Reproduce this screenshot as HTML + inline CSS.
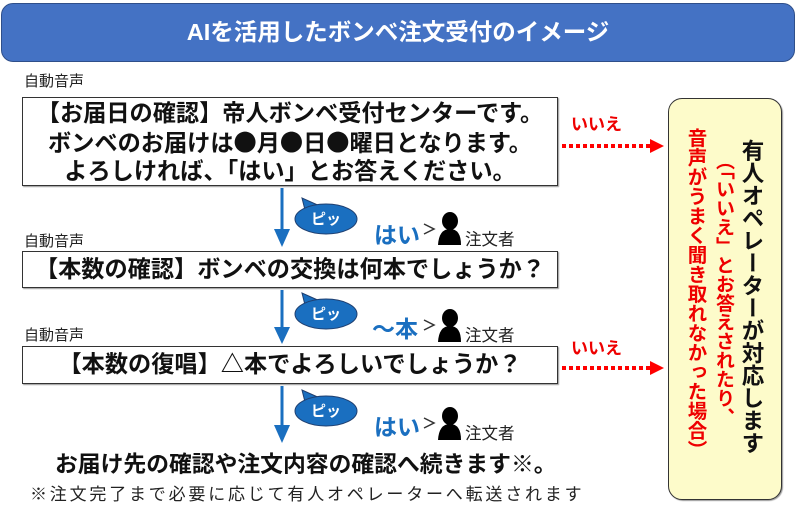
<!DOCTYPE html>
<html><head><meta charset="utf-8"><style>
body{margin:0;width:800px;height:515px;background:#fff;position:relative;overflow:hidden;font-family:"Liberation Sans","Noto Sans CJK JP",sans-serif;}
.a{position:absolute;}
.hdr{left:1px;top:3px;width:794px;height:59px;background:#4472c4;border:1.5px solid #2f4f8a;border-radius:12px;color:#fff;font-weight:bold;font-size:23.5px;text-align:center;line-height:57px;box-sizing:border-box;}
.lbl{font-size:15px;color:#222;}
.box{left:22px;width:536px;border:1.5px solid #333;box-sizing:border-box;text-align:center;font-weight:bold;font-size:23.2px;color:#111;box-shadow:1px 1px 1px #999;white-space:nowrap;}
.c{font-family:"Noto Sans CJK JP",sans-serif;}
.vt{writing-mode:vertical-rl;position:absolute;}
.ans{font-size:23px;font-weight:bold;color:#1a6fc0;}
.who{font-size:16.5px;color:#222;}
.ie{font-size:17px;color:#e00;font-weight:bold;}
</style></head><body>
<div class="a hdr">AIを活用したボンベ注文受付のイメージ</div>

<div class="a lbl" style="left:24px;top:70px">自動音声</div>
<div class="a box" style="top:97px;height:89px;line-height:28px;padding-top:1px">【お届日の確認】帝人ボンベ受付センターです。<br>ボンベのお届けは<span class="c">●</span>月<span class="c">●</span>日<span class="c">●</span>曜日となります。<br>よろしければ、「はい」とお答えください。</div>

<div class="a lbl" style="left:24px;top:230px">自動音声</div>
<div class="a box" style="top:251px;height:37px;line-height:34px">【本数の確認】ボンベの交換は何本でしょうか？</div>

<div class="a lbl" style="left:24px;top:324px">自動音声</div>
<div class="a box" style="top:346px;height:38px;line-height:35px">【本数の復唱】△本でよろしいでしょうか？</div>

<div class="a" style="left:55px;top:446px;font-size:22.8px;font-weight:bold;color:#111;white-space:nowrap">お届け先の確認や注文内容の確認へ続きます※。</div>
<div class="a" style="left:30px;top:480px;font-size:17px;color:#222;letter-spacing:2.8px;white-space:nowrap">※注文完了まで必要に応じて有人オペレーターへ転送されます</div>

<svg class="a" style="left:0;top:0" width="800" height="515">
<g fill="#1a6fc0">
<rect x="280.5" y="188" width="3" height="42"/><path d="M274,229L290,229L282,247z"/>
<rect x="280.5" y="290" width="3" height="38"/><path d="M274,327L290,327L282,344z"/>
<rect x="280.5" y="386" width="3" height="40"/><path d="M274,425L290,425L282,443z"/>
</g>
<g fill="#1a6fc0" stroke="#1f3f70" stroke-width="1">
<path d="M305,210 L302,198 L320,206 Z"/><ellipse cx="326" cy="219" rx="31" ry="15"/>
<path d="M305,305 L302,293 L320,301 Z"/><ellipse cx="326" cy="314" rx="31" ry="15"/>
<path d="M305,402 L302,390 L320,398 Z"/><ellipse cx="326" cy="411" rx="31" ry="15"/>
</g>
<g fill="#fff" font-size="15" font-weight="bold" font-family="Liberation Sans,Noto Sans CJK JP,sans-serif" text-anchor="middle">
<text x="326" y="224">ピッ</text><text x="326" y="319">ピッ</text><text x="326" y="416">ピッ</text>
</g>
<g fill="#000">
<ellipse cx="450" cy="221" rx="8" ry="9"/><path d="M438,245 Q439,229 450,229 Q461,229 461,245Z"/>
<ellipse cx="450" cy="318" rx="8" ry="9"/><path d="M438,342 Q439,326 450,326 Q461,326 461,342Z"/>
<ellipse cx="450" cy="416" rx="8" ry="9"/><path d="M438,440 Q439,424 450,424 Q461,424 461,440Z"/>
</g>
<g stroke="#333" stroke-width="1.5" fill="none">
<path d="M424,224L434,229L424,234"/><path d="M424,320L434,325L424,330"/><path d="M424,418L434,423L424,428"/>
</g>
<g stroke="#f00" stroke-width="4" stroke-dasharray="4,3">
<line x1="562" y1="146" x2="650" y2="146"/><line x1="562" y1="368" x2="650" y2="368"/>
</g>
<path d="M650,139L664,146L650,153z" fill="#f00"/><path d="M650,361L664,368L650,375z" fill="#f00"/>
</svg>

<div class="a ans" style="left:374px;top:216px">はい</div>
<div class="a who" style="left:465px;top:226px">注文者</div>
<div class="a ans" style="left:372px;top:310px">～本</div>
<div class="a who" style="left:465px;top:322px">注文者</div>
<div class="a ans" style="left:374px;top:408px">はい</div>
<div class="a who" style="left:465px;top:420px">注文者</div>
<div class="a ie" style="left:571px;top:110px">いいえ</div>
<div class="a ie" style="left:571px;top:334px">いいえ</div>

<div class="a" style="left:668px;top:98px;width:114px;height:402px;background:#fdfbca;border:1.5px solid #333;border-radius:14px;box-sizing:border-box;box-shadow:1px 1px 1px #999"></div>
<div class="vt" style="left:736px;top:139px;font-size:22.5px;font-weight:bold;color:#111;line-height:30px">有人オペレーターが対応します</div>
<div class="vt" style="left:709px;top:151px;font-size:19px;font-weight:bold;color:#e00;line-height:28px">（「いいえ」とお答えされたり、</div>
<div class="vt" style="left:681px;top:128px;font-size:19.5px;font-weight:bold;color:#e00;line-height:28px">音声がうまく聞き取れなかった場合）</div>
</body></html>
